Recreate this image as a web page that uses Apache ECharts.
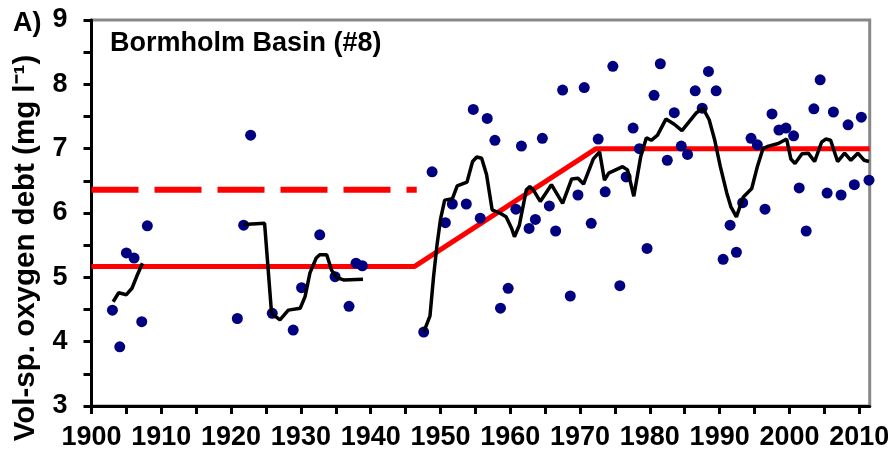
<!DOCTYPE html>
<html><head><meta charset="utf-8">
<script src="https://cdn.jsdelivr.net/npm/echarts@6/dist/echarts.min.js"></script>
<style>html,body{margin:0;padding:0;background:#fff}#c{width:888px;height:453px}</style>
</head><body><div id="c"></div>
<script>
// ---- data ----
const dotYears = [1903.0,1904.05,1905.0,1906.1,1907.2,1908.0,1920.9,1921.8,1922.8,1925.9,1928.9,1930.1,1932.7,1934.9,1936.9,1937.9,1938.8,
  1947.6,1948.8,1950.7,1951.7,1953.7,1954.7,1955.7,1956.7,1957.8,1958.6,1959.7,1960.8,1961.6,1962.7,1963.6,1964.6,1965.6,1966.5,
  1967.5,1968.6,1969.7,1970.6,1971.6,1972.6,1973.6,1974.7,1975.7,1976.6,1977.6,1978.5,1979.6,1980.6,1981.5,1982.5,1983.5,1984.5,
  1985.4,1986.5,1987.5,1988.4,1989.5,1990.5,1991.5,1992.4,1993.3,1994.5,1995.4,1996.5,1997.5,1998.5,1999.5,2000.6,2001.4,2002.4,
  2003.5,2004.4,2005.4,2006.3,2007.4,2008.4,2009.3,2010.3,2011.4];
const dotValues = [4.49,3.92,5.38,5.30,4.31,5.80,4.36,5.81,7.21,4.44,4.18,4.84,5.66,5.01,4.55,5.22,5.18,
  4.15,6.64,5.85,6.14,6.14,7.61,5.92,7.47,7.13,4.52,4.83,6.06,7.04,5.76,5.90,7.16,6.11,5.72,
  7.91,4.71,6.28,7.95,5.84,7.15,6.33,8.28,4.87,6.56,7.32,7.00,5.45,7.83,8.32,6.82,7.56,7.04,
  6.91,7.90,7.63,8.20,7.90,5.28,5.81,5.39,6.16,7.16,7.06,6.06,7.54,7.29,7.32,7.20,6.39,5.72,
  7.62,8.07,6.31,7.57,6.28,7.37,6.44,7.49,6.51];

const meanYears1 = [1903.1,1903.9,1905.0,1905.8,1906.5,1907.3];
const meanValues1 = [4.62,4.76,4.73,4.83,5.02,5.22];

const meanYears2 = [1921.8,1924.8,1925.8,1927.0,1928.2,1929.9,1930.6,1931.3,1932.2,1932.7,1933.7,1934.4,1935.1,1936.1,1938.9];
const meanValues2 = [5.82,5.84,4.44,4.34,4.49,4.52,4.70,5.07,5.30,5.35,5.35,5.11,5.00,4.96,4.97];

const meanYears3 = [1947.6,1948.5,1949.0,1949.5,1950.0,1950.6,1951.7,1952.4,1953.8,1954.6,1955.2,1955.9,1956.6,1957.4,1958.5,1959.4,
  1960.2,1960.6,1961.3,1962.3,1962.8,1963.3,1964.3,1965.9,1967.5,1968.8,1969.7,1970.5,1971.9,1972.8,1973.5,1974.1,1976.1,1976.8,
  1977.7,1978.7,1979.5,1980.2,1981.1,1982.3,1983.5,1984.6,1986.6,1987.6,1988.5,1989.3,1990.1,1991.0,1991.6,1992.4,1993.4,1994.6,
  1995.4,1996.2,1997.0,1998.4,1999.6,2000.2,2000.8,2001.8,2002.7,2003.6,2004.6,2005.2,2005.9,2006.9,2007.9,2008.8,2009.8,2010.7,2011.4];
const meanValues3 = [4.15,4.40,5.00,5.50,5.90,6.20,6.22,6.42,6.48,6.80,6.87,6.85,6.60,6.05,6.00,5.94,
  5.76,5.63,5.81,6.36,6.41,6.36,6.18,6.44,6.15,6.53,6.54,6.45,6.84,6.95,6.51,6.62,6.72,6.67,
  6.26,6.88,7.17,7.13,7.21,7.46,7.38,7.28,7.55,7.63,7.45,7.13,6.72,6.32,6.10,5.94,6.25,6.38,
  6.72,7.00,7.04,7.08,7.15,6.84,6.77,6.92,6.93,6.80,7.10,7.15,7.13,6.80,6.93,6.82,6.93,6.82,6.80];

const trendYears = [1900,1946.3,1972.3,2011.5];
const trendValues = [5.17,5.17,7.00,7.00];

const levelYears = [1900,1946.6];
const levelValues = [6.36,6.36];

const xTickValues = [1900,1905,1910,1915,1920,1925,1930,1935,1940,1945,1950,1955,1960,1965,1970,1975,1980,1985,1990,1995,2000,2005,2010];
const xLabelValues = [1900,1910,1920,1930,1940,1950,1960,1970,1980,1990,2000,2010];
const yTickValues = [3,3.5,4,4.5,5,5.5,6,6.5,7,7.5,8,8.5,9];
const yLabelValues = [3,4,5,6,7,8,9];

const panelLabel = 'A)';
const titleText = 'Bormholm Basin (#8)';
const yName = 'Vol-sp. oxygen debt (mg l\u207B\u00B9)';

// ---- build ----
const zip = (xs, ys) => xs.map((x, i) => [x, ys[i]]);
const FONT = 'Liberation Sans, Arial, sans-serif';

const chart = echarts.init(document.getElementById('c'), null, {renderer: 'canvas'});
chart.setOption({
  animation: false,
  backgroundColor: '#fff',
  grid: {left: 91.5, top: 20, width: 778.2, height: 386, show: true, borderColor: '#888', borderWidth: 3,
         backgroundColor: 'transparent', containLabel: false, outerBoundsMode: 'none'},
  xAxis: {
    type: 'value', min: 1900, max: 2011.5,
    axisLine: {show: true, onZero: false, lineStyle: {color: '#000', width: 3}},
    axisTick: {show: true, inside: false, length: 8, customValues: xTickValues, lineStyle: {color: '#000', width: 3}},
    axisLabel: {customValues: xLabelValues, formatter: v => String(v), margin: 18, color: '#000', fontSize: 27, fontWeight: 'bold', fontFamily: FONT},
    splitLine: {show: false}
  },
  yAxis: {
    type: 'value', min: 3, max: 9,
    axisLine: {show: true, onZero: false, lineStyle: {color: '#000', width: 3}},
    axisTick: {show: true, inside: false, length: 8, customValues: yTickValues, lineStyle: {color: '#000', width: 3}},
    axisLabel: {customValues: yLabelValues, formatter: v => String(v), margin: 24, color: '#000', fontSize: 27, fontWeight: 'bold', fontFamily: FONT},
    splitLine: {show: false}
  },
  graphic: [
    {type: 'text', left: 13, top: 10, style: {text: panelLabel, fill: '#000', font: 'bold 27px ' + FONT}},
    {type: 'text', x: 110, y: 44, style: {text: titleText, fill: '#000', font: 'bold 27px ' + FONT, textVerticalAlign: 'middle'}},
    {type: 'text', x: 26, y: 248, rotation: Math.PI / 2, style: {text: yName, fill: '#000', font: 'bold 29.5px ' + FONT, textAlign: 'center', textVerticalAlign: 'middle'}}
  ],
  series: [
    {type: 'line', data: zip(levelYears, levelValues), symbol: 'none', lineStyle: {color: '#ff0000', width: 6, type: [47, 16], cap: 'butt'}, z: 2},
    {type: 'line', data: zip(trendYears, trendValues), symbol: 'none', lineStyle: {color: '#ff0000', width: 5}, z: 2},
    {type: 'scatter', data: zip(dotYears, dotValues), symbol: 'circle', symbolSize: 11, itemStyle: {color: '#000080', opacity: 1}, z: 3},
    {type: 'line', data: zip(meanYears1, meanValues1), symbol: 'none', lineStyle: {color: '#000', width: 3.5}, z: 4},
    {type: 'line', data: zip(meanYears2, meanValues2), symbol: 'none', lineStyle: {color: '#000', width: 3.5}, z: 4},
    {type: 'line', data: zip(meanYears3, meanValues3), symbol: 'none', lineStyle: {color: '#000', width: 3.5}, z: 4}
  ]
});
</script></body></html>
